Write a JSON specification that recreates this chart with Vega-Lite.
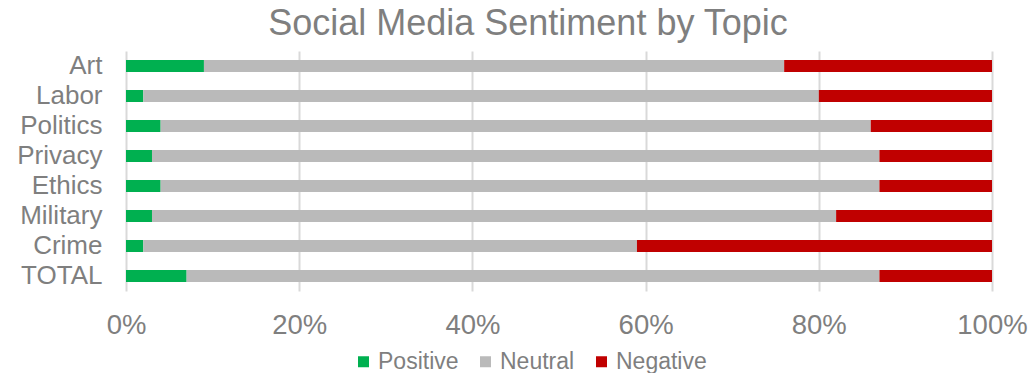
{
  "$schema": "https://vega.github.io/schema/vega-lite/v6.json",
  "autosize": "none",
  "width": 866,
  "height": 240,
  "padding": {"left": 126, "top": 51, "right": 40, "bottom": 82},
  "background": "white",
  "title": {
    "text": "Social Media Sentiment by Topic",
    "anchor": "middle",
    "fontSize": 36,
    "font": "Liberation Sans",
    "fontWeight": "normal",
    "color": "#7f7f7f",
    "baseline": "alphabetic",
    "offset": -20,
    "dx": -31
  },
  "data": {
    "values": [
      {"topic": "Art", "sentiment": "Positive", "order": 1, "value": 9},
      {"topic": "Art", "sentiment": "Neutral", "order": 2, "value": 67},
      {"topic": "Art", "sentiment": "Negative", "order": 3, "value": 24},
      {"topic": "Labor", "sentiment": "Positive", "order": 1, "value": 2},
      {"topic": "Labor", "sentiment": "Neutral", "order": 2, "value": 78},
      {"topic": "Labor", "sentiment": "Negative", "order": 3, "value": 20},
      {"topic": "Politics", "sentiment": "Positive", "order": 1, "value": 4},
      {"topic": "Politics", "sentiment": "Neutral", "order": 2, "value": 82},
      {"topic": "Politics", "sentiment": "Negative", "order": 3, "value": 14},
      {"topic": "Privacy", "sentiment": "Positive", "order": 1, "value": 3},
      {"topic": "Privacy", "sentiment": "Neutral", "order": 2, "value": 84},
      {"topic": "Privacy", "sentiment": "Negative", "order": 3, "value": 13},
      {"topic": "Ethics", "sentiment": "Positive", "order": 1, "value": 4},
      {"topic": "Ethics", "sentiment": "Neutral", "order": 2, "value": 83},
      {"topic": "Ethics", "sentiment": "Negative", "order": 3, "value": 13},
      {"topic": "Military", "sentiment": "Positive", "order": 1, "value": 3},
      {"topic": "Military", "sentiment": "Neutral", "order": 2, "value": 79},
      {"topic": "Military", "sentiment": "Negative", "order": 3, "value": 18},
      {"topic": "Crime", "sentiment": "Positive", "order": 1, "value": 2},
      {"topic": "Crime", "sentiment": "Neutral", "order": 2, "value": 57},
      {"topic": "Crime", "sentiment": "Negative", "order": 3, "value": 41},
      {"topic": "TOTAL", "sentiment": "Positive", "order": 1, "value": 7},
      {"topic": "TOTAL", "sentiment": "Neutral", "order": 2, "value": 80},
      {"topic": "TOTAL", "sentiment": "Negative", "order": 3, "value": 13}
    ]
  },
  "mark": {"type": "bar", "height": 12},
  "encoding": {
    "y": {
      "field": "topic",
      "type": "nominal",
      "sort": ["Art", "Labor", "Politics", "Privacy", "Ethics", "Military", "Crime", "TOTAL"],
      "scale": {"paddingInner": 0, "paddingOuter": 0},
      "axis": {
        "title": null,
        "ticks": false,
        "domain": false,
        "labelFontSize": 26,
        "labelFont": "Liberation Sans",
        "labelColor": "#7f7f7f",
        "labelPadding": 24
      }
    },
    "x": {
      "field": "value",
      "type": "quantitative",
      "stack": "normalize",
      "scale": {"domain": [0, 1]},
      "axis": {
        "title": null,
        "format": ".0%",
        "values": [0, 0.2, 0.4, 0.6, 0.8, 1],
        "ticks": false,
        "domain": false,
        "grid": true,
        "gridColor": "#d9d9d9",
        "gridWidth": 2,
        "labelFontSize": 27.5,
        "labelFont": "Liberation Sans",
        "labelColor": "#7f7f7f",
        "labelPadding": 42,
        "labelBaseline": "alphabetic",
        "labelFlush": false
      }
    },
    "color": {
      "field": "sentiment",
      "type": "nominal",
      "scale": {"domain": ["Positive", "Neutral", "Negative"], "range": ["#00b050", "#bababa", "#c00000"]},
      "legend": {
        "title": null,
        "orient": "none",
        "legendX": 226,
        "legendY": 299,
        "direction": "horizontal",
        "symbolType": "square",
        "symbolSize": 121,
        "symbolStrokeWidth": 0,
        "labelFontSize": 23,
        "labelFont": "Liberation Sans",
        "labelColor": "#7f7f7f",
        "columnPadding": 15,
        "labelOffset": 3
      }
    },
    "order": {"field": "order", "type": "quantitative"}
  },
  "config": {"view": {"stroke": null}}
}
